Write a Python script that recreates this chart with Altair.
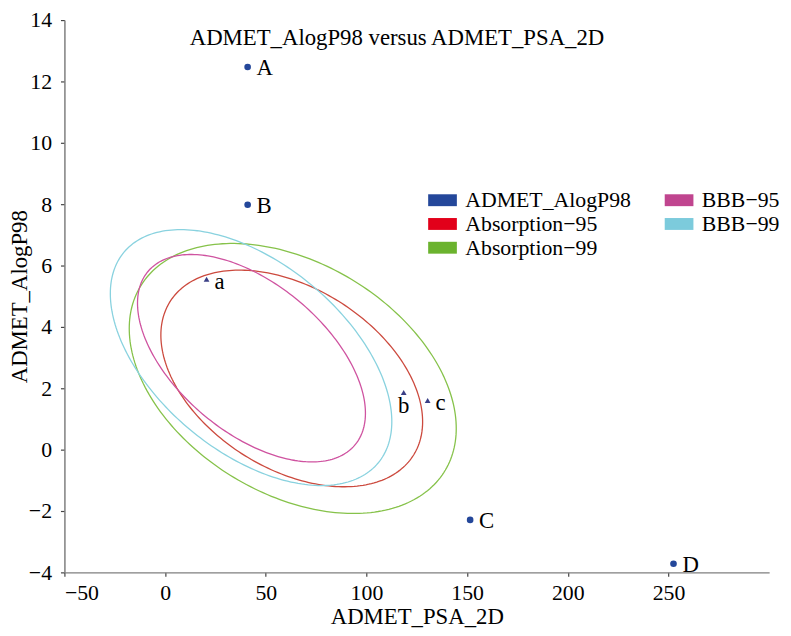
import altair as alt
import numpy as np
import pandas as pd

# ---- data ----
pt_labels = ["A", "B", "C", "D"]
pt_psa = [41.0, 41.0, 151.5, 252.5]
pt_alogp = [12.47, 7.98, -2.29, -3.72]

tri_labels = ["a", "b", "c"]
tri_psa = [20.6, 118.5, 130.4]
tri_alogp = [5.55, 1.86, 1.60]

# confidence ellipses: centre, half-extent in x / y, correlation
ell_names = ["Absorption−95", "Absorption−99", "BBB−95", "BBB−99"]
ell_cx = [62.9, 63.4, 42.9, 42.7]
ell_cy = [2.32, 2.32, 2.98, 3.00]
ell_sx = [65.0, 81.2, 56.6, 69.9]
ell_sy = [3.53, 4.40, 3.38, 4.17]
ell_rho = [-0.40, -0.37, -0.53, -0.50]

legend_domain = ["ADMET_AlogP98", "Absorption−95", "Absorption−99", "BBB−95", "BBB−99"]
legend_colors = ["#24479a", "#e2001a", "#6bb32e", "#c0458f", "#7ccbdc"]
line_colors = ["#cc4a3e", "#86c24a", "#cf53a0", "#89d2df"]

x_ticks = [-50, 0, 50, 100, 150, 200, 250]
y_ticks = [-4, -2, 0, 2, 4, 6, 8, 10, 12, 14]
title_text = "ADMET_AlogP98 versus ADMET_PSA_2D"

FONT = "Liberation Serif"

# ---- tables ----
pts = pd.DataFrame({"label": pt_labels, "psa": pt_psa, "alogp": pt_alogp,
                    "series": ["ADMET_AlogP98"] * len(pt_labels)})
tris = pd.DataFrame({"label": tri_labels, "psa": tri_psa, "alogp": tri_alogp})

rows = []
t = np.linspace(0, 2 * np.pi, 241)
for n, cx, cy, sx, sy, r in zip(ell_names, ell_cx, ell_cy, ell_sx, ell_sy, ell_rho):
    xs = cx + sx * np.cos(t)
    ys = cy + sy * (r * np.cos(t) + np.sqrt(1 - r * r) * np.sin(t))
    for i, (a, b) in enumerate(zip(xs, ys)):
        rows.append({"name": n, "idx": i, "psa": a, "alogp": b})
ell = pd.DataFrame(rows)

xscale = alt.Scale(domain=[-50, 300], nice=False, zero=False)
yscale = alt.Scale(domain=[-4, 14], nice=False, zero=False)

xenc = alt.X("psa:Q", scale=xscale,
             axis=alt.Axis(values=x_ticks, title="ADMET_PSA_2D", titleY=52,
                           titleBaseline="alphabetic", labelPadding=6))
yenc = alt.Y("alogp:Q", scale=yscale,
             axis=alt.Axis(values=y_ticks, title="ADMET_AlogP98", titleX=-38,
                           titleBaseline="alphabetic", labelPadding=9))

lines = alt.Chart(ell).mark_line(strokeWidth=1.3, clip=True).encode(
    x=xenc, y=yenc,
    stroke=alt.Stroke("name:N", scale=alt.Scale(domain=ell_names, range=line_colors), legend=None),
    detail="name:N",
    order="idx:Q",
)

circles = alt.Chart(pts).mark_point(filled=True, shape="circle", size=45, opacity=1).encode(
    x=alt.X("psa:Q", scale=xscale), y=alt.Y("alogp:Q", scale=yscale),
    color=alt.Color("series:N",
                    scale=alt.Scale(domain=legend_domain, range=legend_colors),
                    legend=alt.Legend(orient="none", legendX=371, legendY=171, columns=2,
                                      title=None, direction="vertical",
                                      symbolType="M-1.45,-0.6L1.45,-0.6L1.45,0.6L-1.45,0.6Z",
                                      symbolSize=400, symbolStrokeWidth=0, symbolOpacity=1,
                                      labelFont=FONT, labelFontSize=22, labelColor="black",
                                      labelOffset=12, columnPadding=33, rowPadding=2,
                                      padding=0, labelLimit=400)),
)

circle_text = alt.Chart(pts).mark_text(align="left", baseline="middle", dx=9, dy=1,
                                       font=FONT, fontSize=23, color="black").encode(
    x=alt.X("psa:Q", scale=xscale), y=alt.Y("alogp:Q", scale=yscale), text="label:N")

triangles = alt.Chart(tris).mark_point(filled=True, shape="triangle-up", size=34,
                                       opacity=1, color="#3a3f86").encode(
    x=alt.X("psa:Q", scale=xscale), y=alt.Y("alogp:Q", scale=yscale))

tri_text_side = alt.Chart(tris).transform_filter(alt.datum.label != "b").mark_text(
    align="left", baseline="middle", dx=8, dy=3, font=FONT, fontSize=23, color="black").encode(
    x=alt.X("psa:Q", scale=xscale), y=alt.Y("alogp:Q", scale=yscale), text="label:N")

tri_text_below = alt.Chart(tris).transform_filter(alt.datum.label == "b").mark_text(
    align="center", baseline="top", dy=3, font=FONT, fontSize=23, color="black").encode(
    x=alt.X("psa:Q", scale=xscale), y=alt.Y("alogp:Q", scale=yscale), text="label:N")

title = alt.Chart(pd.DataFrame({"t": [title_text]})).mark_text(
    align="center", baseline="alphabetic", font=FONT, fontSize=23, color="black").encode(
    x=alt.value(336), y=alt.value(25), text="t:N")

chart = alt.layer(lines, circles, circle_text, triangles, tri_text_side, tri_text_below, title).properties(
    width=712, height=558,
    autosize=alt.AutoSizeParams(type="none"),
    padding={"left": 57, "top": 9, "right": 14, "bottom": 53},
).configure_view(strokeWidth=0).configure_axis(
    grid=False, domainColor="#7f7f7f", domainWidth=1.5, tickColor="#444444", tickWidth=1.2,
    tickSize=4, labelFont=FONT, labelFontSize=22, labelColor="black",
    titleFont=FONT, titleFontSize=23, titleFontWeight="normal", titleColor="black",
)

chart.save("out.html", embed_options={"renderer": "svg", "actions": False})
